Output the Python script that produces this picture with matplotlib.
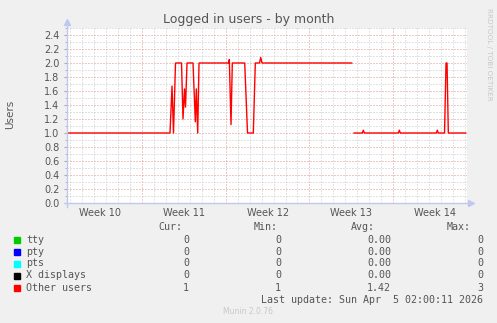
import numpy as np
import matplotlib.pyplot as plt

# x values are days in March 2026 (Mar 9 00:00 = 8.0 means day offset from Mar 1)
days = [1.729, 10.341, 10.508, 10.634, 10.801, 11.303, 11.428, 11.554, 11.637,
        11.763, 12.264, 12.457, 12.540, 12.657, 12.766, 15.249, 15.299, 15.441,
        15.550, 16.587, 16.821, 17.306, 17.473, 17.824, 17.925, 18.033, 25.533,
        25.63, 25.726, 26.420, 26.503, 26.587, 29.431, 29.514, 29.597, 32.607,
        32.691, 32.774, 33.293, 33.418, 33.502, 33.610, 35.065]
users = [1.0, 1.0, 1.67, 1.0, 2.0, 2.0, 1.2, 1.63, 1.37,
         2.0, 2.0, 1.16, 1.63, 1.0, 2.0, 2.0, 2.05, 1.12,
         2.0, 2.0, 1.0, 1.0, 2.0, 2.0, 2.08, 2.0, 2.0,
         np.nan, 1.0, 1.0, 1.04, 1.0, 1.0, 1.04, 1.0, 1.0,
         1.04, 1.0, 1.0, 2.0, 2.0, 1.0, 1.0]

mondays = [8, 15, 22, 29]
week_names = ["Week 10", "Week 11", "Week 12", "Week 13", "Week 14"]
week_mid = [4.5, 11.5, 18.5, 25.5, 32.5]

series = ["tty", "pty", "pts", "X displays", "Other users"]
series_colors = ["#00cc00", "#0000ff", "#00ffff", "#000000", "#ff0000"]
cur = ["0", "0", "0", "0", "1"]
mins = ["0", "0", "0", "0", "1"]
avgs = ["0.00", "0.00", "0.00", "0.00", "1.42"]
maxs = ["0", "0", "0", "0", "3"]

W, H = 497, 323
fig = plt.figure(figsize=(W / 100, H / 100), dpi=100, facecolor="#f0f0f0")
ax = fig.add_axes([67 / W, 1 - 203 / H, (466.5 - 67) / W, (203 - 28) / H])
ax.set_facecolor("white")

ax.plot(days, users, color="#ff0000", lw=1.0)
ax.set_xlim(1.729, 35.13)
ax.set_ylim(0, 2.5)

ax.set_xticks(mondays)
ax.set_xticks(np.arange(2, 36), minor=True)
ax.set_xticklabels([])
ax.set_yticks(np.arange(0, 2.41, 0.2))
ax.set_yticks(np.arange(0, 2.51, 0.1), minor=True)
ax.set_yticklabels(["%.1f" % v for v in np.arange(0, 2.41, 0.2)])

dots = (0, (1, 2))
ax.grid(which="minor", color="#c8c8c8", lw=0.72, linestyle=dots)
ax.grid(which="major", color="#e09090", lw=0.72, linestyle=dots)
ax.set_axisbelow(True)
ax.tick_params(which="both", colors="#aaaaaa", labelcolor="#555555", labelsize=7)
ax.tick_params(which="major", length=2.5, pad=3)
ax.tick_params(which="minor", length=1.5)
ax.tick_params(axis="x", which="both", length=0)

for s in ax.spines.values():
    s.set_visible(False)

# axis lines with arrows
axcol = "#c0c8f0"
ax.plot([0, 0], [-0.02, 1.03], transform=ax.transAxes, color=axcol, lw=1, clip_on=False)
ax.plot([-0.005, 1.01], [0, 0], transform=ax.transAxes, color=axcol, lw=1, clip_on=False)
ax.plot([0], [1.035], transform=ax.transAxes, marker="^", ms=4, color=axcol, clip_on=False)
ax.plot([1.012], [0], transform=ax.transAxes, marker=">", ms=4, color=axcol, clip_on=False)

for name, x in zip(week_names, week_mid):
    ax.text(x, -0.055, name, transform=ax.get_xaxis_transform(), ha="center",
            va="center", fontsize=7, color="#555555")

fig.text(248.5 / W, 1 - 19 / H, "Logged in users - by month", ha="center", va="center",
         fontsize=9, color="#555555")
fig.text(10 / W, 1 - 114 / H, "Users", rotation=90, ha="center", va="center",
         fontsize=7.5, color="#555555")
fig.text(488.5 / W, 1 - 54 / H, "RRDTOOL / TOBI OETIKER", rotation=270, ha="center",
         va="center", fontsize=5.2, color="#c8c8c8")

# legend table
mono = dict(family="DejaVu Sans Mono", fontsize=7.2, color="#555555", va="center")
def fy(py):
    return 1 - py / H

hy = 227.3
for lbl, px in zip(["Cur:", "Min:", "Avg:", "Max:"], [158, 254, 351, 447]):
    fig.text(px / W, fy(hy), lbl, ha="left", **mono)

row_y = [240, 252, 263.5, 275.5, 287.7]
for i, name in enumerate(series):
    y = row_y[i]
    fig.patches.append(plt.Rectangle((14 / W, fy(y + 3)), 6 / W, 6 / H,
                                     transform=fig.transFigure, color=series_colors[i]))
    fig.text(26 / W, fy(y), name, ha="left", **mono)
    fig.text(189 / W, fy(y), cur[i], ha="right", **mono)
    fig.text(281 / W, fy(y), mins[i], ha="right", **mono)
    fig.text(391 / W, fy(y), avgs[i], ha="right", **mono)
    fig.text(483 / W, fy(y), maxs[i], ha="right", **mono)

fig.text(483 / W, fy(299.7), "Last update: Sun Apr  5 02:00:11 2026", ha="right", **mono)
fig.text(248 / W, fy(312), "Munin 2.0.76", ha="center", va="center", fontsize=5.5,
         color="#c8c8c8")

fig.savefig("out.png", dpi=100, facecolor=fig.get_facecolor())
